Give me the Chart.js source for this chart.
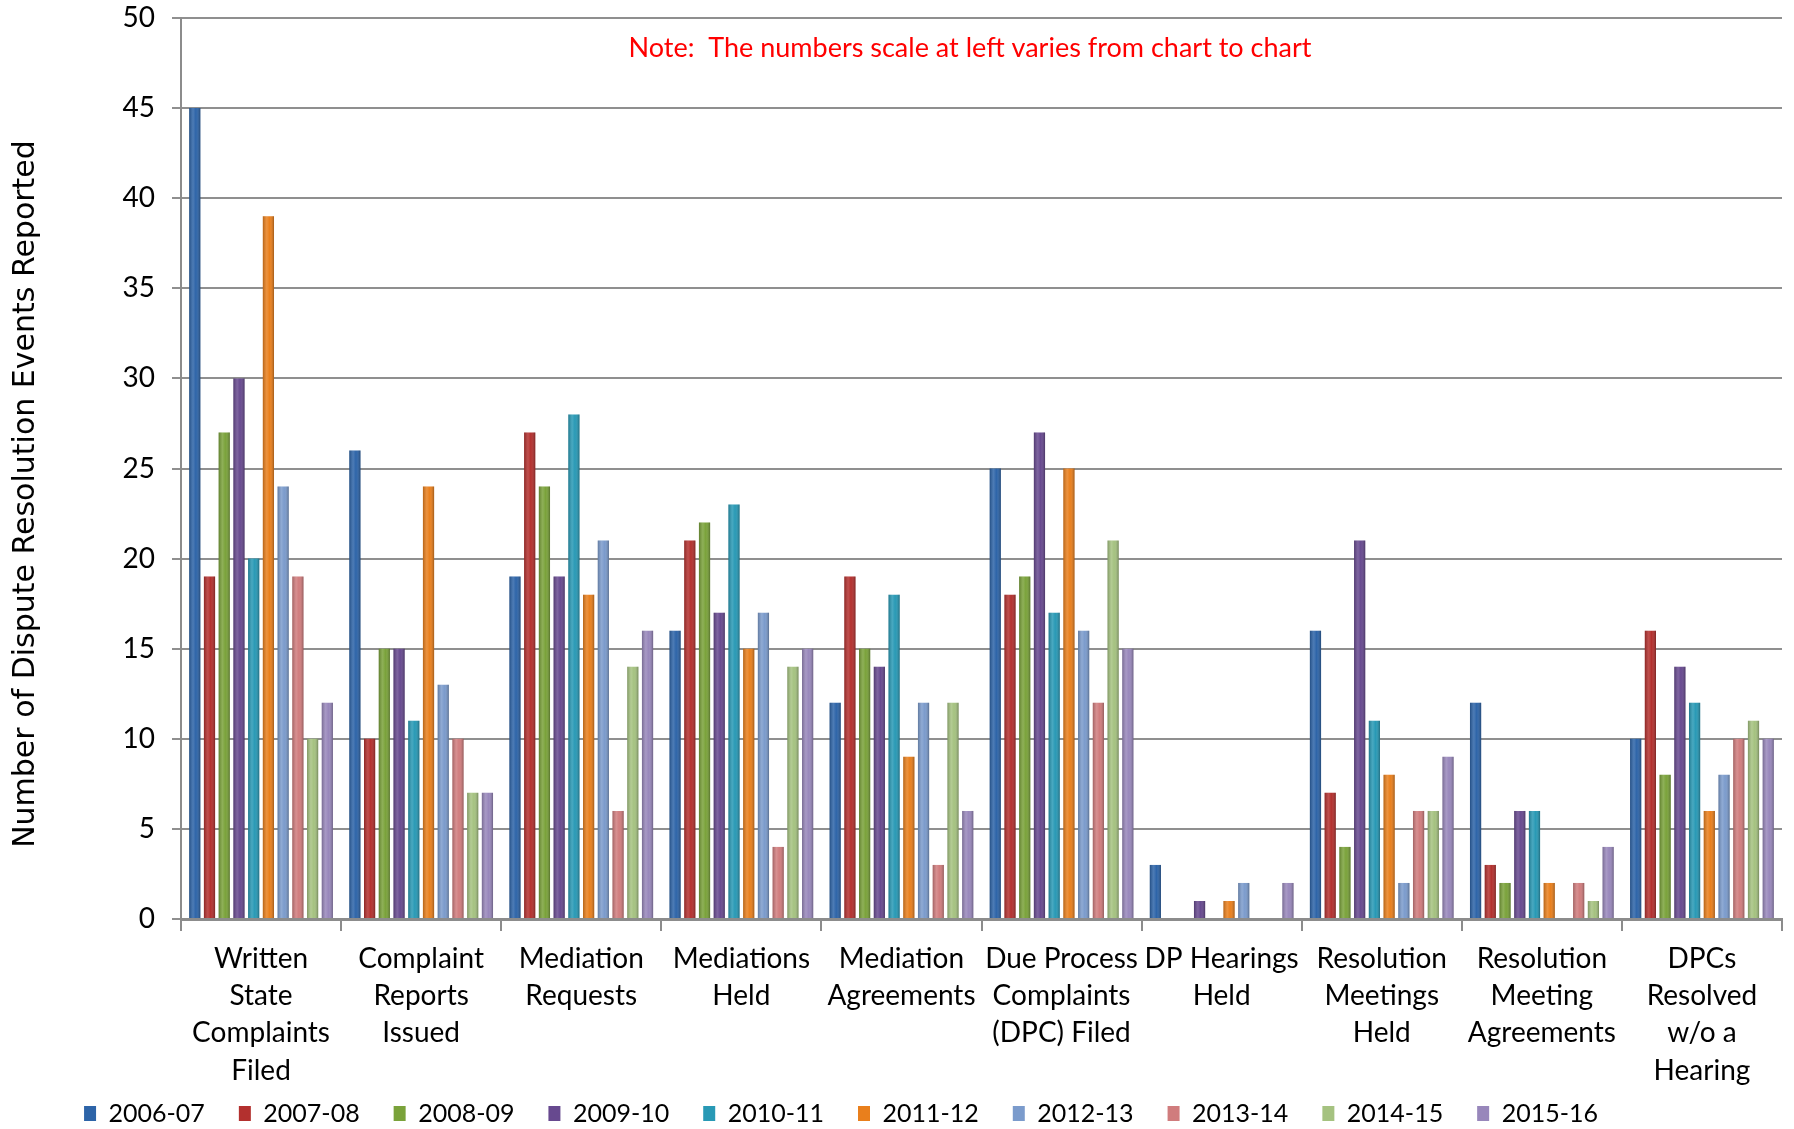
<!DOCTYPE html>
<html lang="en">
<head>
<meta charset="UTF-8">
<script src="https://cdn.jsdelivr.net/npm/chart.js@4.4.0/dist/chart.umd.min.js"></script>
<title>Dispute Resolution Events</title>
<style>
  html, body { margin: 0; padding: 0; background: #fff; }
  #wrap { width: 1794px; height: 1129px; }
</style>
</head>
<body>
<div id="wrap"><canvas id="chart"></canvas></div>
<script>
// categories
const categories = [
  ['Written', 'State', 'Complaints', 'Filed'],
  ['Complaint', 'Reports', 'Issued'],
  ['Mediation', 'Requests'],
  ['Mediations', 'Held'],
  ['Mediation', 'Agreements'],
  ['Due Process', 'Complaints', '(DPC) Filed'],
  ['DP Hearings', 'Held'],
  ['Resolution', 'Meetings', 'Held'],
  ['Resolution', 'Meeting', 'Agreements'],
  ['DPCs', 'Resolved', 'w/o a', 'Hearing']
];

// one array per school year, in category order
const y2006_07 = [45, 26, 19, 16, 12, 25, 3, 16, 12, 10];
const y2007_08 = [19, 10, 27, 21, 19, 18, 0, 7, 3, 16];
const y2008_09 = [27, 15, 24, 22, 15, 19, 0, 4, 2, 8];
const y2009_10 = [30, 15, 19, 17, 14, 27, 1, 21, 6, 14];
const y2010_11 = [20, 11, 28, 23, 18, 17, 0, 11, 6, 12];
const y2011_12 = [39, 24, 18, 15, 9, 25, 1, 8, 2, 6];
const y2012_13 = [24, 13, 21, 17, 12, 16, 2, 2, 0, 8];
const y2013_14 = [19, 10, 6, 4, 3, 12, 0, 6, 2, 10];
const y2014_15 = [10, 7, 14, 14, 12, 21, 0, 6, 1, 11];
const y2015_16 = [12, 7, 16, 15, 6, 15, 2, 9, 4, 10];

const yearLabels = ['2006-07', '2007-08', '2008-09', '2009-10', '2010-11',
                    '2011-12', '2012-13', '2013-14', '2014-15', '2015-16'];
const yearValues = [y2006_07, y2007_08, y2008_09, y2009_10, y2010_11,
                    y2011_12, y2012_13, y2013_14, y2014_15, y2015_16];
const yearColors = ['#2d64a8', '#b3302e', '#7aa23a', '#67498f', '#2899b5',
                    '#e97f1c', '#7b9bcc', '#d07c7d', '#a5c280', '#9887bb'];

const yTicks = [0, 5, 10, 15, 20, 25, 30, 35, 40, 45, 50];

// cylinder-like shading laid over each bar
const barShade = {
  id: 'barShade',
  afterDatasetsDraw(chart) {
    const ctx = chart.ctx;
    ctx.save();
    chart.data.datasets.forEach((ds, i) => {
      chart.getDatasetMeta(i).data.forEach(bar => {
        const p = bar.getProps(['x', 'y', 'base', 'width'], true);
        if (Math.abs(p.base - p.y) < 1) return;
        const l = p.x - p.width / 2, r = p.x + p.width / 2;
        const g = ctx.createLinearGradient(l, 0, r, 0);
        g.addColorStop(0, 'rgba(0,0,0,0.22)');
        g.addColorStop(0.35, 'rgba(255,255,255,0.15)');
        g.addColorStop(0.6, 'rgba(255,255,255,0.0)');
        g.addColorStop(1, 'rgba(0,0,0,0.3)');
        ctx.fillStyle = g;
        ctx.fillRect(l, p.y, p.width, p.base - p.y);
      });
    });
    ctx.restore();
  }
};

const extraText = {
  id: 'extraText',
  afterDraw(chart) {
    const ctx = chart.ctx;
    ctx.save();
    ctx.font = '27px Lato';
    ctx.fillStyle = '#ff0000';
    ctx.textAlign = 'center';
    ctx.textBaseline = 'middle';
    ctx.fillText('Note:  The numbers scale at left varies from chart to chart', 970, 48);
    ctx.translate(26, 494);
    ctx.rotate(-Math.PI / 2);
    ctx.font = '30px "DejaVu Sans"';
    ctx.fillStyle = '#000';
    ctx.fillText('Number of Dispute Resolution Events Reported', 0, 0);
    ctx.restore();
  }
};

// nudge the legend row to where it sits in the original
const legendShift = {
  id: 'legendShift',
  afterLayout(chart) {
    const lg = chart.legend;
    lg.left -= 50; lg.right -= 50;
    lg.top -= 22; lg.bottom -= 22;
  }
};

const datasets = yearLabels.map((lab, i) => ({
  label: lab,
  data: yearValues[i],
  backgroundColor: yearColors[i],
  borderWidth: 0,
  barPercentage: 0.76,
  categoryPercentage: 0.92
}));

new Chart(document.getElementById('chart'), {
  type: 'bar',
  data: { labels: categories, datasets: datasets },
  options: {
    responsive: true,
    maintainAspectRatio: false,
    animation: false,
    layout: { padding: { top: 18, right: 12, left: 0, bottom: -29 } },
    plugins: {
      tooltip: { enabled: false },
      legend: {
        position: 'bottom',
        labels: {
          font: { family: 'Lato', size: 25 },
          color: '#000',
          boxWidth: 12,
          boxHeight: 15,
          padding: 34
        }
      }
    },
    scales: {
      x: {
        afterFit: s => { s.height = 170; },
        grid: {
          offset: true,
          drawOnChartArea: false,
          drawTicks: true,
          tickLength: 12,
          color: '#8c8c8c',
          lineWidth: 2
        },
        border: { color: '#8c8c8c', width: 3 },
        ticks: {
          font: { family: 'Lato', size: 28, lineHeight: 1.335 },
          color: '#000',
          maxRotation: 0,
          autoSkip: false,
          padding: 9
        }
      },
      y: {
        min: 0,
        max: 50,
        afterBuildTicks: s => { s.ticks = yTicks.map(v => ({ value: v })); },
        afterFit: s => { s.width = 181; s.paddingTop = 0; s.paddingBottom = 0; },
        grid: {
          color: '#8f8f8f',
          lineWidth: 2,
          tickLength: 9
        },
        border: { color: '#8c8c8c', width: 2 },
        ticks: {
          font: { family: 'Lato', size: 28 },
          color: '#000',
          padding: 17
        }
      }
    }
  },
  plugins: [barShade, extraText, legendShift]
});
</script>
</body>
</html>
